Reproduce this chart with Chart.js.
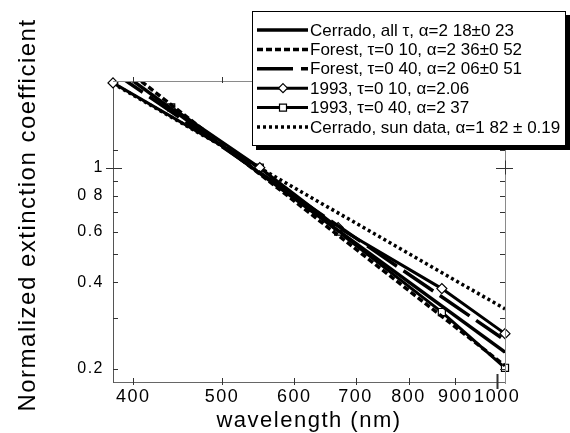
<!DOCTYPE html>
<html><head><meta charset="utf-8">
<script src="https://cdn.jsdelivr.net/npm/chart.js@4.4.1/dist/chart.umd.min.js"></script>
<style>html,body{margin:0;padding:0;background:#fff;}canvas{display:block;}</style>
</head><body>
<canvas id="c" width="570" height="433"></canvas>
<script>
// ---- data ----
const xTickValues = [400, 500, 600, 700, 800, 900, 1000];
const xTickLabels = ['400', '500', '600', '700', '800', '900', '1000'];
const yTickValues = [0.2, 0.3, 0.4, 0.5, 0.6, 0.7, 0.8, 0.9, 1, 1.15];
const yTickLabels = ['0.2', '', '0.4', '', '0.6', '', '0 8', '', '1', ''];

const fitWavelengths = [380, 1020];
const cerradoAll = [2.25, 0.2285];
const forest010 = [2.38, 0.205];
const forest040Wavelengths = [380, 1010];
const forest040 = [2.15, 0.257];
const sunData = [1.96, 0.323];
const diamondWavelengths = [380, 550, 670, 870, 1020];
const y1993tau010 = [1.97, 1.0, 0.619, 0.380, 0.265];
const squareWavelengths = [440, 550, 670, 870, 1020];
const y1993tau040 = [1.62, 1.0, 0.60, 0.315, 0.2017];

const legendLabels = [
  'Cerrado, all \u03c4, \u03b1=2 18\u00b10 23',
  'Forest, \u03c4=0 10, \u03b1=2 36\u00b10 52',
  'Forest, \u03c4=0 40, \u03b1=2 06\u00b10 51',
  '1993, \u03c4=0 10, \u03b1=2.06',
  '1993, \u03c4=0 40, \u03b1=2 37',
  'Cerrado, sun data, \u03b1=1 82 \u00b1 0.19'
];
const xTitle = 'wavelength (nm)';
const yTitle = 'Normalized extinction coefficient';

const pts = (xs, ys) => xs.map((x, i) => ({x: x, y: ys[i]}));
const FONT = "'Liberation Sans', Arial, Helvetica, sans-serif";

const base = {borderColor: '#000', backgroundColor: '#000', borderWidth: 3.5, pointRadius: 0,
  borderCapStyle: 'butt', fill: false, tension: 0};

const datasets = [
  Object.assign({}, base, {label: legendLabels[0], data: pts(fitWavelengths, cerradoAll), borderDash: []}),
  Object.assign({}, base, {label: legendLabels[1], data: pts(fitWavelengths, forest010), borderDash: [6, 3]}),
  Object.assign({}, base, {label: legendLabels[2], data: pts(forest040Wavelengths, forest040), borderDash: [36, 8]}),
  Object.assign({}, base, {label: legendLabels[3], data: pts(diamondWavelengths, y1993tau010), borderDash: [], borderWidth: 3,
    pointRadius: 5, pointStyle: 'rectRot', pointBackgroundColor: '#fff', pointBorderColor: '#000', pointBorderWidth: 1.2, clip: false}),
  Object.assign({}, base, {label: legendLabels[4], data: pts(squareWavelengths, y1993tau040), borderDash: [], borderWidth: 3,
    pointRadius: 5, pointStyle: 'rect', pointBackgroundColor: '#fff', pointBorderColor: '#000', pointBorderWidth: 1.2, clip: false}),
  Object.assign({}, base, {label: legendLabels[5], data: pts(fitWavelengths, sunData), borderDash: [3, 3]})
];

const spacingPlugin = {
  id: 'spacing',
  afterInit(chart) { chart.ctx.letterSpacing = '1.5px'; },
  beforeUpdate(chart) { chart.ctx.letterSpacing = '1.5px'; },
  beforeDraw(chart) { chart.ctx.letterSpacing = '1.5px'; }
};

const decorPlugin = {
  id: 'decor',
  afterDraw(chart) {
    const ctx = chart.ctx, a = chart.chartArea;
    const xs = chart.scales.x, ys = chart.scales.y;
    ctx.save();
    // frame top & right
    ctx.strokeStyle = '#8a8a8a'; ctx.lineWidth = 1; ctx.setLineDash([]);
    ctx.beginPath();
    ctx.moveTo(a.left, a.top + 0.5); ctx.lineTo(a.right, a.top + 0.5);
    ctx.moveTo(a.right + 0.5, a.top); ctx.lineTo(a.right + 0.5, a.bottom + 2);
    ctx.stroke();
    // tick marks
    ctx.strokeStyle = '#333';
    xTickValues.forEach(v => {
      const x = Math.round(xs.getPixelForValue(v)) + 0.5;
      ctx.lineWidth = (v === 1000) ? 2 : 1;
      ctx.beginPath();
      if (v === 1000) { ctx.moveTo(x, a.bottom - 8); ctx.lineTo(x, a.bottom + 7); }
      else { ctx.moveTo(x, a.bottom - 4); ctx.lineTo(x, a.bottom + 3); }
      ctx.moveTo(x, a.top - 4); ctx.lineTo(x, a.top + 2);
      ctx.stroke();
    });
    ctx.lineWidth = 1;
    yTickValues.forEach(v => {
      const y = Math.round(ys.getPixelForValue(v)) + 0.5;
      ctx.beginPath();
      if (v === 1) {
        ctx.moveTo(a.left - 7, y); ctx.lineTo(a.left + 9, y);
        ctx.moveTo(a.right - 9, y); ctx.lineTo(a.right + 8, y);
        ctx.moveTo(a.right + 0.5, y - 8); ctx.lineTo(a.right + 0.5, y + 6);
      } else {
        ctx.moveTo(a.left, y); ctx.lineTo(a.left + 5, y);
        ctx.moveTo(a.right - 5, y); ctx.lineTo(a.right, y);
      }
      ctx.stroke();
    });
    // titles
    ctx.fillStyle = '#000';
    ctx.letterSpacing = '1.5px';
    ctx.font = '22px ' + FONT;
    ctx.textAlign = 'center'; ctx.textBaseline = 'alphabetic';
    ctx.fillText(xTitle, (a.left + a.right) / 2, 427);
    ctx.save();
    ctx.translate(35, 215);
    ctx.rotate(-Math.PI / 2);
    ctx.font = '24px ' + FONT;
    ctx.fillText(yTitle, 0, 0);
    ctx.restore();
    // legend box with shadow
    const L = 252, T = 11, R = 566, B = 146;
    ctx.fillStyle = '#000';
    ctx.fillRect(L + 4, T + 4, R - L, B - T);
    ctx.fillStyle = '#fff';
    ctx.fillRect(L, T, R - L, B - T);
    ctx.strokeStyle = '#000'; ctx.lineWidth = 1;
    ctx.strokeRect(L + 0.5, T + 0.5, R - L - 1, B - T - 1);
    ctx.letterSpacing = '0px';
    ctx.font = '17px ' + FONT;
    ctx.textAlign = 'left'; ctx.textBaseline = 'middle';
    chart.data.datasets.forEach((ds, i) => {
      const y = 30 + i * 19.4;
      ctx.save();
      ctx.strokeStyle = '#000'; ctx.lineWidth = ds.borderWidth;
      ctx.lineCap = 'butt';
      ctx.setLineDash(ds.borderDash || []);
      ctx.beginPath(); ctx.moveTo(257, y); ctx.lineTo(308, y); ctx.stroke();
      ctx.setLineDash([]);
      if (ds.pointRadius > 0) {
        ctx.fillStyle = '#fff'; ctx.lineWidth = 1.2;
        ctx.beginPath();
        if (ds.pointStyle === 'rectRot') {
          ctx.moveTo(283, y - 4.5); ctx.lineTo(287.5, y); ctx.lineTo(283, y + 4.5); ctx.lineTo(278.5, y); ctx.closePath();
        } else {
          ctx.rect(279.5, y - 3.5, 7, 7);
        }
        ctx.fill(); ctx.stroke();
      }
      ctx.restore();
      ctx.fillStyle = '#000';
      ctx.fillText(ds.label, 310, y + 1);
    });
    ctx.restore();
  }
};

new Chart(document.getElementById('c'), {
  type: 'line',
  data: {datasets: datasets},
  plugins: [spacingPlugin, decorPlugin],
  options: {
    responsive: false, animation: false, devicePixelRatio: 1,
    layout: {padding: {left: 0, right: 65, top: 81, bottom: 0}},
    plugins: {legend: {display: false}, tooltip: {enabled: false}, title: {display: false}},
    elements: {line: {tension: 0}},
    scales: {
      x: {
        type: 'logarithmic', min: 380, max: 1020,
        afterBuildTicks: s => { s.ticks = xTickValues.map(v => ({value: v})); },
        afterFit: s => { s.height = 433 - 382; },
        grid: {display: false, drawTicks: false},
        border: {display: true, color: '#666', width: 1},
        ticks: {autoSkip: false, maxRotation: 0, minRotation: 0, padding: 4, color: '#000',
          font: {family: FONT, size: 18},
          callback: (v) => { const k = xTickValues.indexOf(v); return k >= 0 ? xTickLabels[k] : ''; }}
      },
      y: {
        type: 'logarithmic', min: 0.18, max: 2.0,
        afterBuildTicks: s => { s.ticks = yTickValues.map(v => ({value: v})); },
        afterFit: s => { s.width = 113; },
        grid: {display: false, drawTicks: false},
        border: {display: true, color: '#555', width: 1},
        ticks: {autoSkip: false, padding: 9, color: '#000',
          font: {family: FONT, size: 16},
          callback: (v) => { const k = yTickValues.indexOf(v); return k >= 0 ? yTickLabels[k] : ''; }}
      }
    }
  }
});
</script>
</body></html>
